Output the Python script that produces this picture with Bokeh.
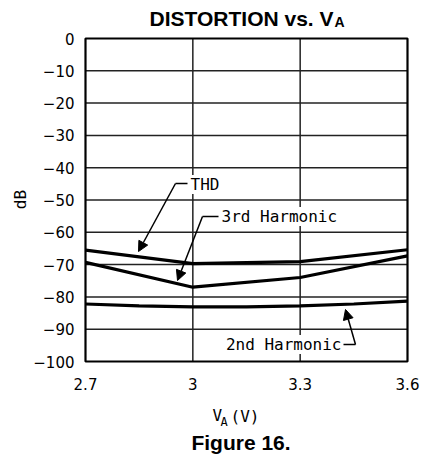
from bokeh.plotting import figure
from bokeh.models import Range1d, Label, Arrow, NormalHead
from bokeh.embed import file_html
from bokeh.resources import INLINE
from bokeh.core.properties import value

# ---- data ----
va_x = [2.7, 3.0, 3.3, 3.6]
thd = [-65.5, -69.7, -69.1, -65.4]
third_harm = [-69.3, -77.0, -74.0, -67.3]
second_x = [2.7, 2.85, 3.0, 3.15, 3.3, 3.45, 3.6]
second_harm = [-82.2, -82.8, -83.1, -83.1, -82.8, -82.2, -81.3]

x_min, x_max = 2.7, 3.6
y_min, y_max = -100, 0
x_ticks = [2.7, 3.0, 3.3, 3.6]
x_tick_labels = ["2.7", "3", "3.3", "3.6"]
y_ticks = [0, -10, -20, -30, -40, -50, -60, -70, -80, -90, -100]
y_tick_labels = ["0", "\u221210", "\u221220", "\u221230", "\u221240", "\u221250",
                 "\u221260", "\u221270", "\u221280", "\u221290", "\u2212100"]
x_grid = [3.0, 3.3]
y_grid = [-10, -20, -30, -40, -50, -60, -70, -80, -90]

# ---- layout (pixels) ----
W, H = 426, 457
PX0, PX1 = 85, 407     # screen x of x_min, x_max
PY0, PY1 = 38, 361     # screen y of y_max, y_min
kx = (x_max - x_min) / (PX1 - PX0)
ky = (y_max - y_min) / (PY1 - PY0)


def sx(px):
    return x_min + (px - PX0) * kx


def sy(py):
    return y_max - (py - PY0) * ky


p = figure(width=W, height=H, output_backend="svg", toolbar_location=None,
           x_range=Range1d(sx(0), sx(W)), y_range=Range1d(sy(H), sy(0)),
           min_border=0, x_axis_type=None, y_axis_type=None)
p.background_fill_color = "white"
p.border_fill_color = "white"
p.outline_line_color = None
p.grid.visible = False

# grid
p.segment(x0=x_grid, y0=[y_min] * len(x_grid), x1=x_grid, y1=[y_max] * len(x_grid),
          line_color="#222222", line_width=1.5)
p.segment(x0=[x_min] * len(y_grid), y0=y_grid, x1=[x_max] * len(y_grid), y1=y_grid,
          line_color="#222222", line_width=1.5)
# frame
p.quad(left=[x_min], right=[x_max], bottom=[y_min], top=[y_max],
       fill_color=None, line_color="black", line_width=2.2)

# tick labels
p.text(x=[sx(74)] * len(y_ticks), y=y_ticks, text=y_tick_labels,
       text_font=value("DejaVu Sans"), text_font_size="15px", text_color="black",
       text_align="right", text_baseline="middle")
p.text(x=x_ticks, y=[sy(383.5)] * len(x_ticks), text=x_tick_labels,
       text_font=value("DejaVu Sans"), text_font_size="15px", text_color="black",
       text_align="center", text_baseline="alphabetic")

# data
p.line(va_x, thd, line_color="black", line_width=3.2)
p.line(va_x, third_harm, line_color="black", line_width=3.2)
p.line(second_x, second_harm, line_color="black", line_width=3.2)

# callouts: text, text px, text py, align, elbow px, elbow py, horiz end px, tip px, tip py
callouts = [
    ("THD", 190, 184, "left", 175, 183, 187, 138, 251),
    ("3rd Harmonic", 221, 216, "left", 202, 216, 218, 177, 280),
    ("2nd Harmonic", 341, 344, "right", 355, 344, 343, 345, 309),
]
for (txt, tpx, tpy, al, epx, epy, hpx, tipx, tipy) in callouts:
    p.segment(x0=[sx(epx)], y0=[sy(epy)], x1=[sx(hpx)], y1=[sy(epy)],
              line_color="black", line_width=1.5)
    p.add_layout(Arrow(end=NormalHead(size=10, fill_color="black", line_color="black",
                                      line_width=1),
                       x_start=sx(epx), y_start=sy(epy), x_end=sx(tipx), y_end=sy(tipy),
                       line_color="black", line_width=1.5))
    p.add_layout(Label(x=sx(tpx), y=sy(tpy), text=txt, text_font="DejaVu Sans Mono",
                       text_font_size="16px", text_align=al, text_baseline="middle",
                       background_fill_color="white", text_color="black"))

# title
p.add_layout(Label(x=sx(333), y=sy(18), text="DISTORTION vs. V",
                   text_font="Liberation Sans", text_font_style="bold",
                   text_font_size="21px", text_align="right",
                   text_baseline="alphabetic", text_color="black"))
p.add_layout(Label(x=sx(334), y=sy(21), text="A",
                   text_font="Liberation Sans", text_font_style="bold",
                   text_font_size="14px", text_align="left",
                   text_baseline="alphabetic", text_color="black"))
# y axis label
p.add_layout(Label(x=sx(20), y=sy(199), text="dB", angle=1.5708,
                   text_font="DejaVu Sans Mono", text_font_size="16px",
                   text_align="center", text_baseline="middle", text_color="black"))
# x axis label
p.add_layout(Label(x=sx(212), y=sy(415), text="V",
                   text_font="DejaVu Sans Mono", text_font_size="16px",
                   text_align="left", text_baseline="alphabetic", text_color="black"))
p.add_layout(Label(x=sx(220), y=sy(421), text="A",
                   text_font="DejaVu Sans Mono", text_font_size="12px",
                   text_align="left", text_baseline="alphabetic", text_color="black"))
p.add_layout(Label(x=sx(230), y=sy(416), text="(V)",
                   text_font="DejaVu Sans Mono", text_font_size="16px",
                   text_align="left", text_baseline="alphabetic", text_color="black"))
# caption
p.add_layout(Label(x=sx(240.5), y=sy(442), text="Figure 16.",
                   text_font="Liberation Sans", text_font_style="bold",
                   text_font_size="21px", text_align="center",
                   text_baseline="alphabetic", text_color="black"))

open("out.html", "w").write(file_html(p, INLINE))
